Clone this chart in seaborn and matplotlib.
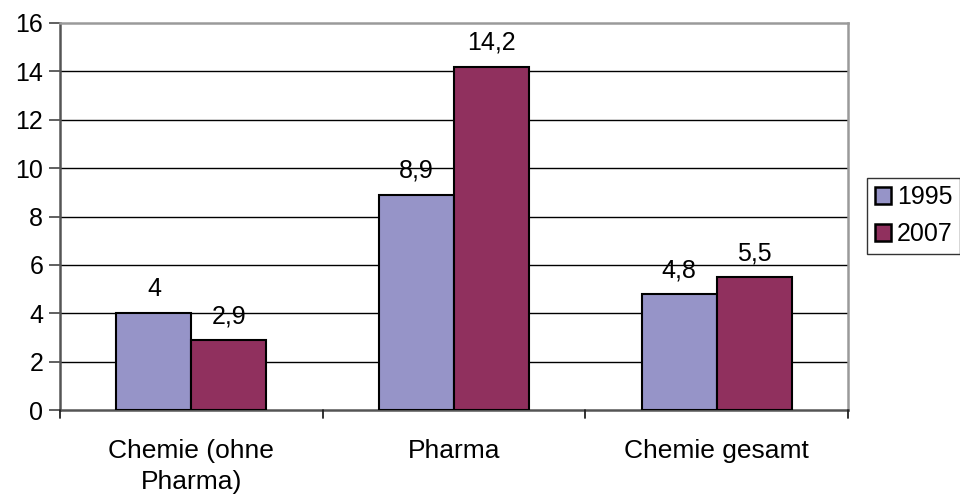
import matplotlib
matplotlib.use("Agg")
import matplotlib.pyplot as plt
import seaborn as sns
import pandas as pd

categories = ["Chemie (ohne\nPharma)", "Pharma", "Chemie gesamt"]
years = ["1995", "2007"]
values_1995 = [4.0, 8.9, 4.8]
values_2007 = [2.9, 14.2, 5.5]
value_labels_1995 = ["4", "8,9", "4,8"]
value_labels_2007 = ["2,9", "14,2", "5,5"]
y_ticks = [0, 2, 4, 6, 8, 10, 12, 14, 16]

colors = ["#9694C8", "#90305E"]

df = pd.DataFrame({
    "Kategorie": categories * 2,
    "Jahr": [years[0]] * 3 + [years[1]] * 3,
    "Wert": values_1995 + values_2007,
})

sns.set_style("white")
plt.rcParams["font.family"] = ["Liberation Sans", "DejaVu Sans"]
plt.rcParams["text.color"] = "black"
plt.rcParams["xtick.color"] = "black"
plt.rcParams["ytick.color"] = "black"

FS = 18

fig = plt.figure(figsize=(9.6, 4.95), dpi=100)
ax = fig.add_axes([60 / 960, 1 - 410 / 495, (848 - 60) / 960, (410 - 23) / 495])

sns.barplot(data=df, x="Kategorie", y="Wert", hue="Jahr", palette=colors,
            width=0.57, edgecolor="black", linewidth=1.5, saturation=1,
            ax=ax, legend=True, zorder=3)

ax.set_ylim(0, 16)
ax.set_xlim(-0.5, 2.5)
ax.set_yticks(y_ticks)
ax.set_yticklabels([str(t) for t in y_ticks], fontsize=FS, color="black")
ax.set_xlabel("")
ax.set_ylabel("")
ax.tick_params(axis="x", labelsize=19, labelcolor="black", length=0, pad=21)
ax.tick_params(axis="y", length=8, width=1.2, color="#444444", labelcolor="black",
               direction="out", left=True, pad=4)
for lbl in ax.get_xticklabels():
    lbl.set_linespacing(1.36)

for y in y_ticks[1:-1]:
    ax.axhline(y, color="black", linewidth=1.0, zorder=1)

for side in ["top", "right"]:
    ax.spines[side].set_visible(True)
    ax.spines[side].set_color("#9a9a9a")
    ax.spines[side].set_linewidth(1.8)
ax.spines["left"].set_color("#555555")
ax.spines["left"].set_linewidth(1.8)
ax.spines["bottom"].set_color("#555555")
ax.spines["bottom"].set_linewidth(1.8)

# category separator ticks below the axis
for xb in [-0.5, 0.5, 1.5, 2.5]:
    ax.plot([xb, xb], [0, -0.35], color="#222222", linewidth=1.3, clip_on=False, zorder=4)

for cont, labels in zip(ax.containers, [value_labels_1995, value_labels_2007]):
    ax.bar_label(cont, labels=labels, padding=8.5, fontsize=FS, color="black")

handles, labs = ax.get_legend_handles_labels()
leg = fig.legend(handles, labs, loc="upper left", bbox_to_anchor=(867 / 960, 1 - 178 / 495),
                 frameon=True, fancybox=False, edgecolor="black", fontsize=FS,
                 handlelength=0.65, handleheight=0.65, handletextpad=0.25,
                 borderpad=0.3, labelspacing=0.5, borderaxespad=0)
leg.get_frame().set_linewidth(1.0)
for h in leg.legend_handles:
    h.set_linewidth(1.8)
if ax.get_legend() is not None:
    ax.get_legend().remove()

fig.savefig("out.png", dpi=100)
